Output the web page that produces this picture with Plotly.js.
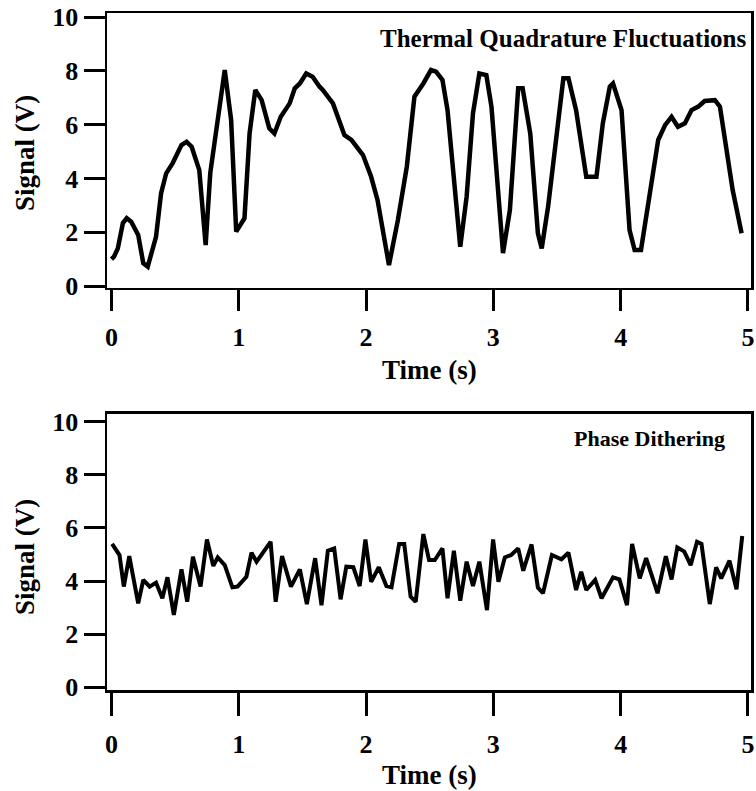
<!DOCTYPE html>
<html>
<head>
<meta charset="utf-8">
<script src="https://cdn.plot.ly/plotly-3.0.1.min.js"></script>
<style>html,body{margin:0;padding:0;background:#fff;}#chart{width:756px;height:791px;}</style>
</head>
<body>
<div id="chart"></div>
<script>
// Top panel: Thermal Quadrature Fluctuations
var thermalTime = [0.00,0.02,0.05,0.09,0.12,0.155,0.21,0.25,0.285,0.35,0.39,0.43,0.48,0.55,0.59,0.63,0.69,0.74,0.776,0.82,0.89,0.94,0.98,1.045,1.085,1.13,1.18,1.24,1.28,1.33,1.40,1.44,1.48,1.53,1.58,1.635,1.66,1.74,1.79,1.83,1.885,1.976,2.04,2.09,2.18,2.25,2.32,2.38,2.45,2.51,2.55,2.60,2.64,2.74,2.79,2.84,2.89,2.945,2.985,3.076,3.13,3.195,3.23,3.29,3.35,3.38,3.43,3.50,3.55,3.59,3.65,3.73,3.81,3.86,3.915,3.94,4.007,4.07,4.11,4.16,4.23,4.295,4.35,4.40,4.45,4.505,4.557,4.61,4.66,4.74,4.78,4.88,4.95];
var thermalSignal = [1.0,1.09,1.4,2.34,2.52,2.39,1.9,0.85,0.72,1.83,3.45,4.19,4.56,5.24,5.36,5.18,4.31,1.52,4.19,5.67,8.03,6.17,2.02,2.52,5.67,7.29,6.91,5.86,5.67,6.29,6.79,7.35,7.53,7.9,7.78,7.41,7.29,6.79,6.17,5.61,5.43,4.87,4.06,3.2,0.78,2.45,4.43,7.04,7.53,8.03,7.97,7.66,6.54,1.46,3.32,6.42,7.9,7.84,6.67,1.22,2.83,7.35,7.35,5.67,1.96,1.4,2.95,5.67,7.72,7.72,6.54,4.06,4.06,6.05,7.41,7.53,6.54,2.08,1.34,1.34,3.45,5.43,5.99,6.29,5.92,6.05,6.54,6.67,6.88,6.91,6.67,3.57,1.96];

// Bottom panel: Phase Dithering
var ditherTime = [0.005,0.063,0.097,0.14,0.21,0.25,0.30,0.35,0.40,0.44,0.49,0.55,0.595,0.64,0.70,0.75,0.80,0.835,0.89,0.95,0.99,1.06,1.10,1.14,1.25,1.29,1.34,1.41,1.48,1.535,1.60,1.65,1.70,1.75,1.80,1.845,1.90,1.95,1.995,2.04,2.10,2.16,2.20,2.26,2.30,2.35,2.39,2.45,2.495,2.54,2.60,2.64,2.69,2.74,2.79,2.84,2.89,2.95,2.998,3.04,3.09,3.14,3.195,3.235,3.30,3.35,3.39,3.46,3.535,3.59,3.65,3.69,3.73,3.80,3.85,3.94,3.99,4.05,4.09,4.15,4.20,4.29,4.355,4.40,4.445,4.50,4.55,4.60,4.635,4.70,4.75,4.79,4.855,4.91,4.955];
var ditherSignal = [5.4,4.98,3.79,4.94,3.16,4.04,3.79,3.94,3.35,4.14,2.72,4.44,3.22,4.92,3.79,5.57,4.57,4.89,4.6,3.76,3.79,4.16,5.07,4.73,5.48,3.22,4.94,3.79,4.44,3.13,4.86,3.09,5.14,5.23,3.31,4.54,4.52,3.81,5.57,3.97,4.52,3.81,3.76,5.4,5.4,3.41,3.22,5.77,4.79,4.79,5.23,3.35,5.14,3.26,4.73,3.81,4.73,2.9,5.57,3.97,4.89,4.98,5.23,4.39,5.38,3.75,3.54,4.98,4.82,5.07,3.66,4.35,3.66,4.04,3.35,4.14,4.06,3.09,5.4,4.1,4.86,3.54,4.94,4.06,5.27,5.11,4.6,5.48,5.4,3.13,4.52,4.1,4.77,3.69,5.7];

var xTickVals = [0,1,2,3,4,5];
var yTickVals = [0,2,4,6,8,10];
var xTitle = 'Time (s)';
var yTitle = 'Signal (V)';
var panelLabels = ['Thermal Quadrature Fluctuations', 'Phase Dithering'];

var FONT = 'Liberation Serif, Times New Roman, serif';
var TXT = {family: FONT, size: 27, color: '#000', weight: 'bold'};

var traces = [
  {x: thermalTime, y: thermalSignal, xaxis: 'x', yaxis: 'y', mode: 'lines',
   line: {color: '#000', width: 4.5, shape: 'linear'}, hoverinfo: 'skip'},
  {x: ditherTime, y: ditherSignal, xaxis: 'x2', yaxis: 'y2', mode: 'lines',
   line: {color: '#000', width: 4, shape: 'linear'}, hoverinfo: 'skip'}
];

function xAxis(domainAnchor, tlen, stand) {
  return {
    anchor: domainAnchor,
    range: [-0.035, 5.024],
    tickvals: xTickVals,
    ticktext: xTickVals.map(String),
    ticks: 'outside', ticklen: tlen, tickwidth: 3, tickcolor: '#000',
    ticklabelstandoff: stand,
    showline: true, linewidth: 2.5, linecolor: '#000', mirror: true,
    showgrid: false, zeroline: false,
    tickfont: {family: FONT, size: 26, color: '#000', weight: 'bold'}
  };
}
function yAxis(domain, range, anchor) {
  return {
    domain: domain,
    anchor: anchor,
    range: range,
    tickvals: yTickVals,
    ticktext: yTickVals.map(String),
    ticks: 'outside', ticklen: 21, tickwidth: 3, tickcolor: '#000',
    showline: true, linewidth: 2.5, linecolor: '#000', mirror: true,
    showgrid: false, zeroline: false,
    tickfont: {family: FONT, size: 26, color: '#000', weight: 'bold'}
  };
}

var layout = {
  width: 756, height: 791,
  margin: {l: 107, r: 5, t: 13, b: 101, pad: 0},
  paper_bgcolor: '#fff', plot_bgcolor: '#fff',
  showlegend: false,
  xaxis: xAxis('y', 21, 3),
  yaxis: yAxis([0.5938, 1], [-0.074, 10.15], 'x'),
  xaxis2: xAxis('y2', 23, 6),
  yaxis2: yAxis([0, 0.4077], [-0.11, 10.30], 'x2'),
  annotations: [
    {text: panelLabels[0], xref: 'paper', yref: 'paper', x: 0.9953, y: 0.963,
     xanchor: 'right', yanchor: 'middle', showarrow: false,
     font: {family: FONT, size: 25, color: '#000', weight: 'bold'}},
    {text: panelLabels[1], xref: 'paper', yref: 'paper', x: 0.9627, y: 0.3722,
     xanchor: 'right', yanchor: 'middle', showarrow: false,
     font: {family: FONT, size: 22, color: '#000', weight: 'bold'}},
    // axis titles
    {text: xTitle, xref: 'paper', yref: 'paper', x: 0.5, y: 0.4727,
     xanchor: 'center', yanchor: 'middle', showarrow: false, font: TXT},
    {text: xTitle, xref: 'paper', yref: 'paper', x: 0.5, y: -0.1256,
     xanchor: 'center', yanchor: 'middle', showarrow: false, font: TXT},
    {text: yTitle, xref: 'paper', yref: 'paper', x: -0.1273, y: 0.7932,
     xanchor: 'center', yanchor: 'middle', textangle: -90, showarrow: false, font: TXT},
    {text: yTitle, xref: 'paper', yref: 'paper', x: -0.1273, y: 0.1965,
     xanchor: 'center', yanchor: 'middle', textangle: -90, showarrow: false, font: TXT}
  ]
};

Plotly.newPlot('chart', traces, layout, {staticPlot: true, displayModeBar: false});
</script>
</body>
</html>
